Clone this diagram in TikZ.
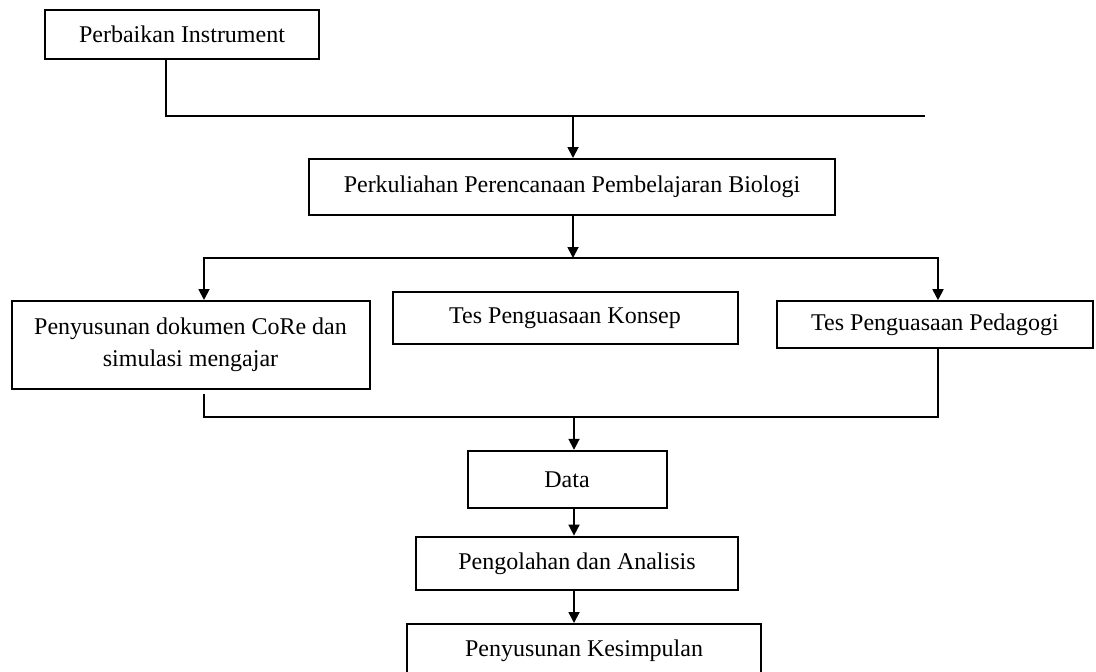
\documentclass[tikz,border=0pt]{standalone}
\usepackage{fontspec}
\setmainfont{Liberation Serif}
\usetikzlibrary{positioning,arrows.meta,calc}

\begin{document}
\begin{tikzpicture}[
x=0.5pt, y=-0.5pt,
mybox/.style={
  draw,
  line width=1pt,
  inner sep=0pt,
  align=center,
  font=\fontsize{12}{16}\selectfont},
myline/.style={line width=0.9pt},
myarrow/.style={
  line width=0.9pt,
  -{Triangle[length=5.5pt,width=5.5pt]}}
]
\useasboundingbox (0,0) rectangle (1096,671);
% boxes
\node[mybox, minimum width=137pt, minimum height=24.5pt] (perb) at (182,34.5) {Perbaikan Instrument};
\node[mybox, minimum width=263pt, minimum height=28pt] (kuliah) at (572,187) {Perkuliahan Perencanaan Pembelajaran Biologi};
\node[mybox, minimum width=179pt, minimum height=44pt] (core) at (190.5,345) {Penyusunan dokumen CoRe dan\\simulasi mengajar};
\node[mybox, minimum width=172.5pt, minimum height=26pt] (konsep) at (565,318.3) {Tes Penguasaan Konsep};
\node[mybox, minimum width=158pt, minimum height=23.5pt] (pedagogi) at (935,324.7) {Tes Penguasaan Pedagogi};
\node[mybox, minimum width=99.5pt, minimum height=28.5pt] (data) at (567,479.3) {Data};
\node[mybox, minimum width=161.3pt, minimum height=26.7pt] (olah) at (577,563.3) {Pengolahan dan Analisis};
\node[mybox, minimum width=177pt, minimum height=27pt] (simpul) at (584,651) {Penyusunan Kesimpulan};
% junctions
\coordinate (a1) at (166,116);
\coordinate (a2) at (925,116);
\coordinate (m1) at (573,116);
\coordinate (b1) at (204,258);
\coordinate (b2) at (938,258);
\coordinate (m2) at (573,258);
\coordinate (c1) at (204,416.7);
\coordinate (c2) at (938,416.7);
\coordinate (m3) at (574,416.7);
% connectors
\draw[myline] (perb.south -| a1) -- (a1) -- (a2);
\draw[myarrow] (m1) -- (kuliah.north -| m1);
\draw[myarrow] (kuliah.south -| m2) -- (m2);
\draw[myarrow] (m2) -- (b1) -- (core.north -| b1);
\draw[myarrow] (m2) -- (b2) -- (pedagogi.north -| b2);
\draw[myline] ([yshift=-2pt]core.south -| c1) -- (c1) -- (c2) -- (pedagogi.south -| c2);
\draw[myarrow] (m3) -- (data.north -| m3);
\draw[myarrow] (data.south -| m3) -- (olah.north -| m3);
\draw[myarrow] (olah.south -| m3) -- (simpul.north -| m3);
\end{tikzpicture}
\end{document}
